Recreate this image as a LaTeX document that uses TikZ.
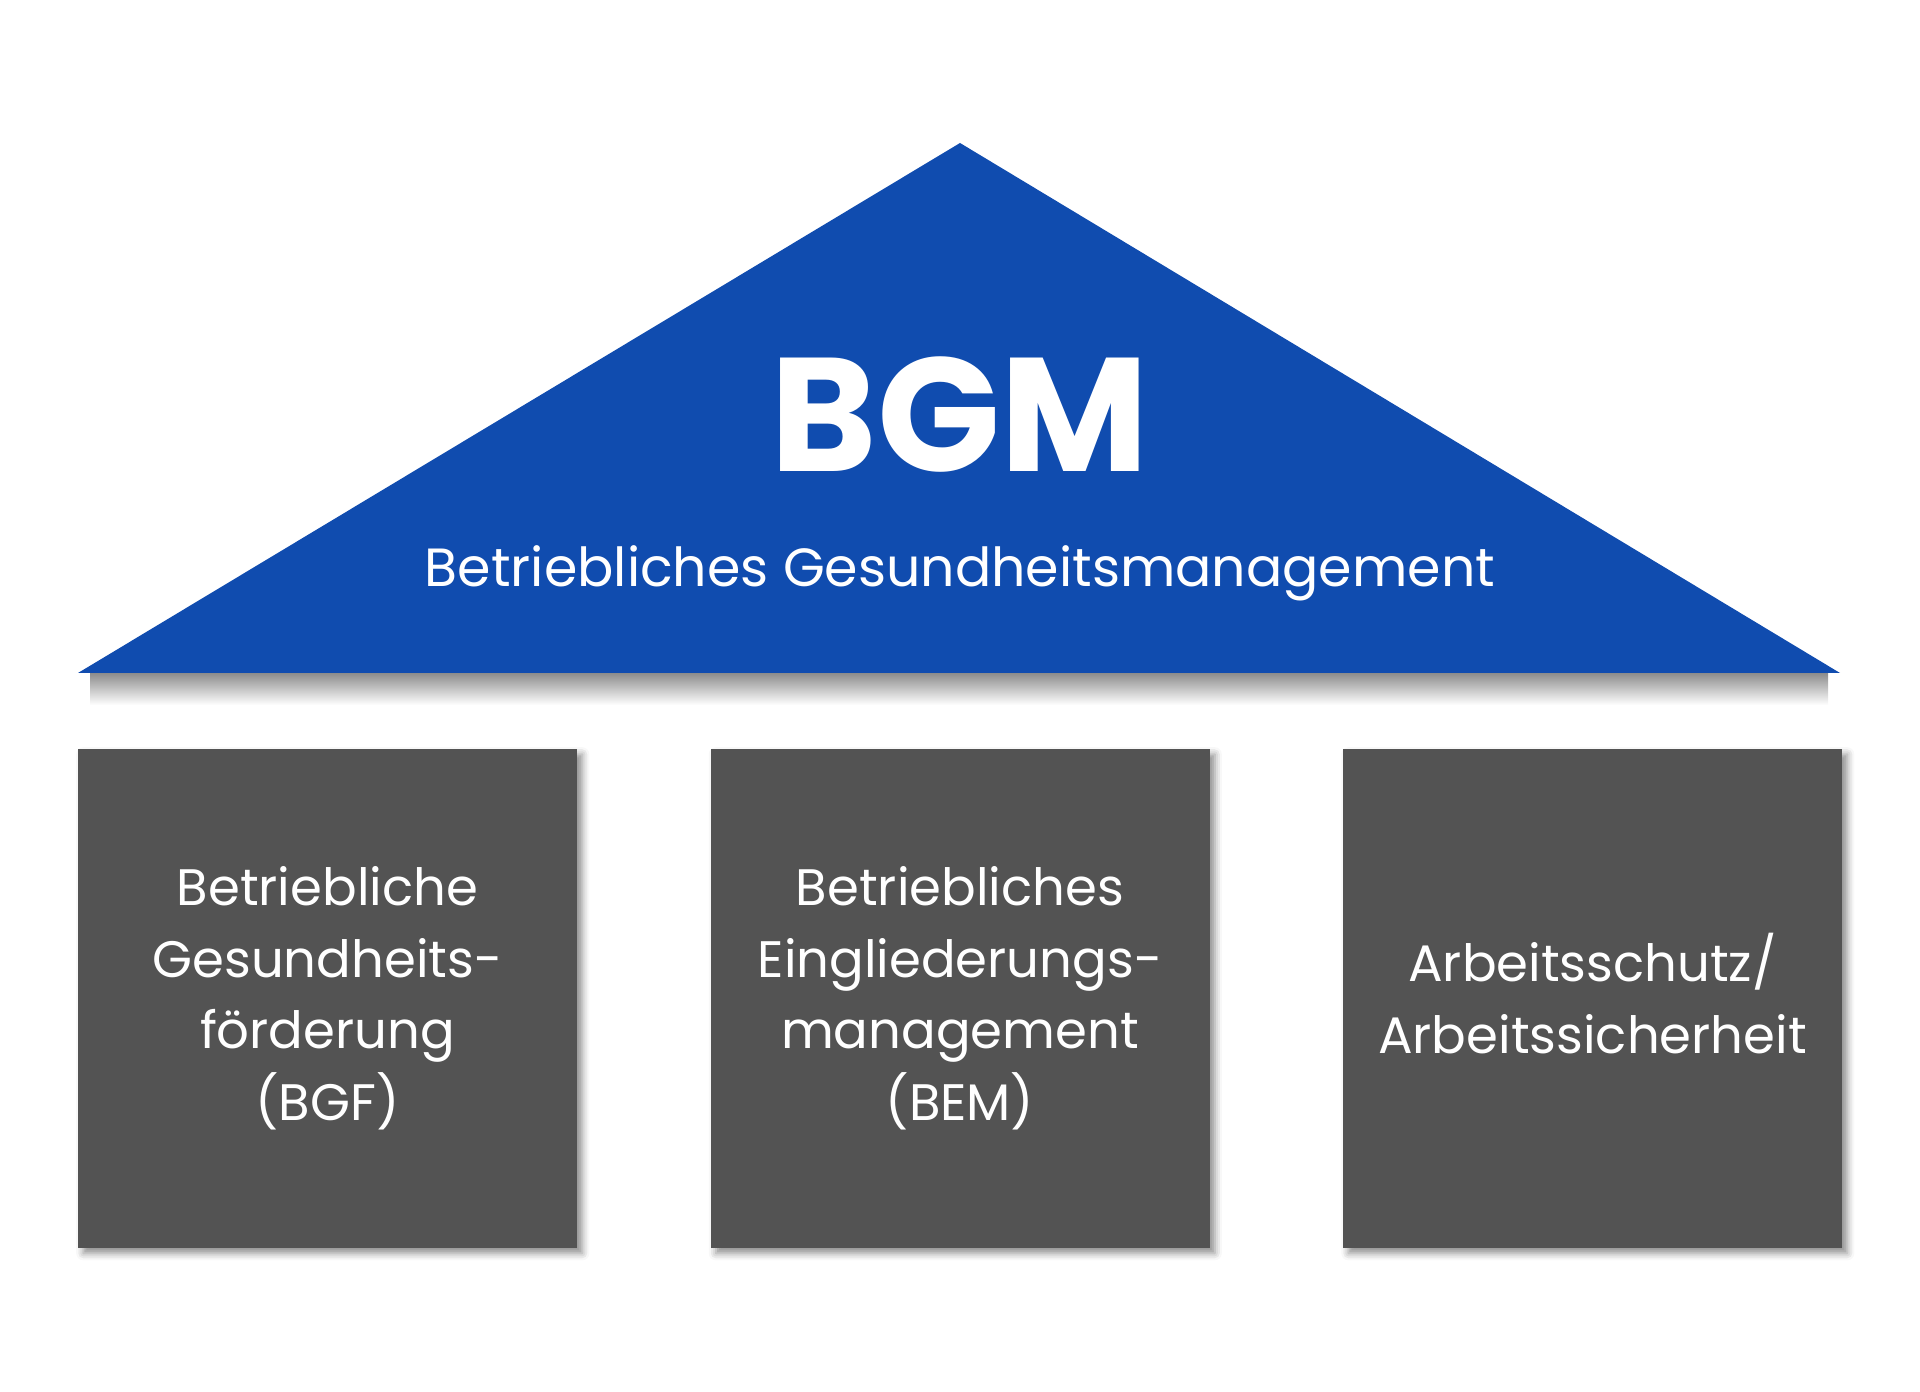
\documentclass[tikz,border=0pt]{standalone}
\usepackage{fontspec}
\setmainfont{Poppins}
\usetikzlibrary{shadows.blur}
\definecolor{roofblue}{RGB}{16,76,175}
\definecolor{pillargray}{RGB}{83,83,83}
\tikzset{
	pillar/.style={fill=pillargray, draw=none, minimum width=4.99cm, minimum height=4.99cm,
		text=white, align=center, font=\fontsize{14.6}{20.4}\selectfont,
		blur shadow={shadow xshift=1.5pt, shadow yshift=-1.5pt, shadow blur radius=2pt, shadow opacity=45}},
}
\begin{document}
\begin{tikzpicture}
		\useasboundingbox (0,0) rectangle (19.2,13.91);
		% Roof corners
		\coordinate (apex) at (9.60,12.48);
		\coordinate (left) at (0.78,7.18);
		\coordinate (right) at (18.40,7.18);
		% Soft shadow under the roof
		\shade[top color=black!45, bottom color=white] (0.90,7.18) rectangle (18.28,6.86);
		\fill[roofblue] (left) -- (apex) -- (right) -- cycle;
		
		% Roof texts
		\node[text=white, font=\bfseries\fontsize{46}{50}\selectfont] (bgm) at (9.60,9.76) {BGM};
		\node[text=white, font=\fontsize{15.3}{18}\selectfont] (title) at (9.60,8.18) {Betriebliches Gesundheitsmanagement};
		
		% Pillars
		\foreach \x/\name/\txt in {3.275/bgf/{Betriebliche\\Gesundheits-\\förderung\\(BGF)},
			9.60/bem/{Betriebliches\\Eingliederungs-\\management\\(BEM)},
			15.925/schutz/{Arbeitsschutz/\\Arbeitssicherheit}} {
			\node[pillar, text depth=0.1cm] (\name) at (\x,3.925) {\txt};
		}
\end{tikzpicture}
\end{document}
